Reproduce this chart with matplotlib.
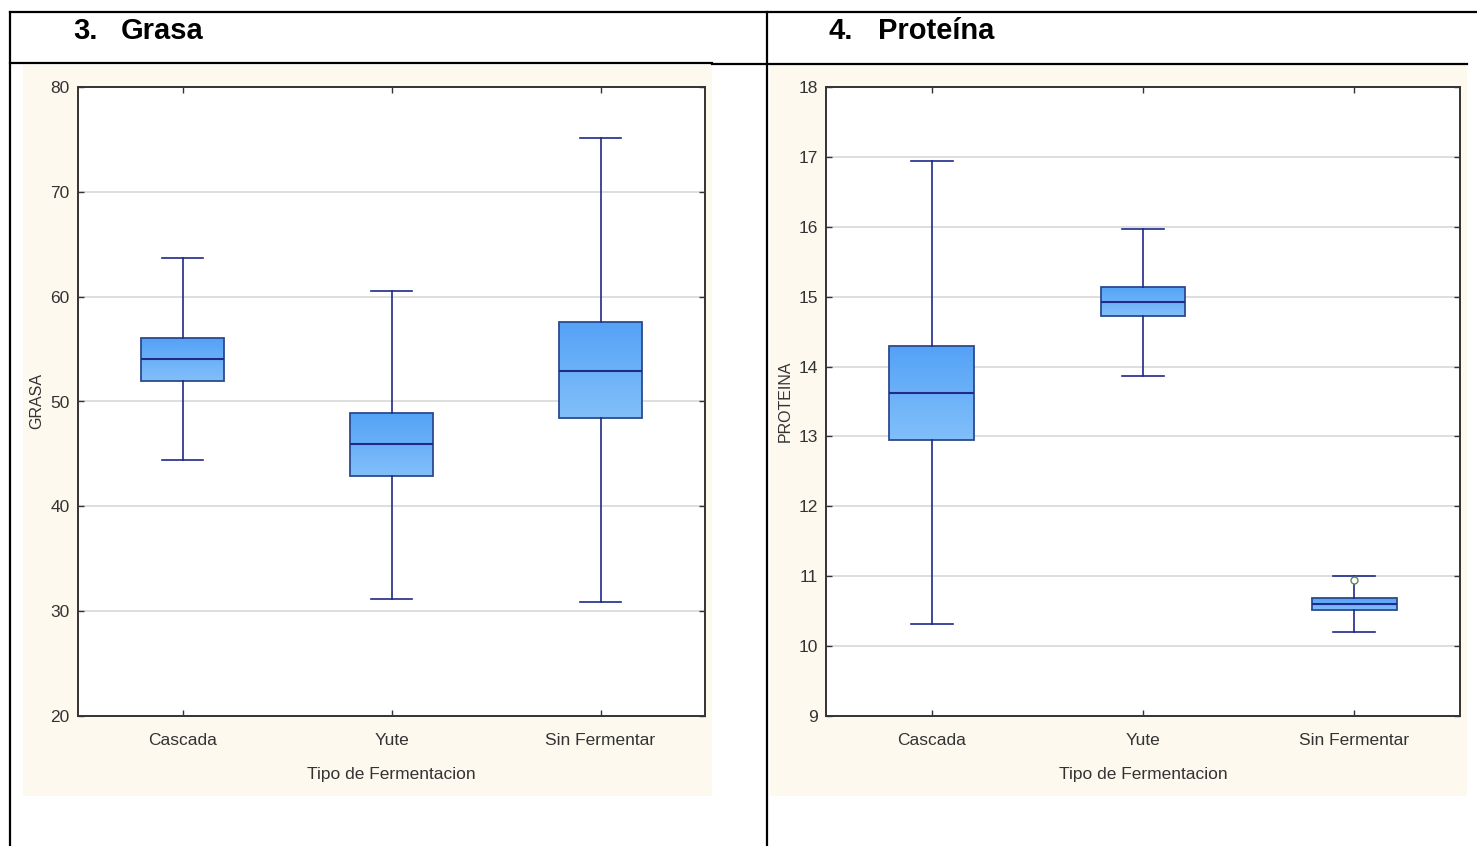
import numpy as np
import matplotlib
matplotlib.use("Agg")
import matplotlib.pyplot as plt
from matplotlib.patches import Rectangle
from matplotlib.colors import LinearSegmentedColormap

# Categorias (eje x comun a los dos graficos)
categorias = ["Cascada", "Yute", "Sin Fermentar"]

# Grasa: bigote inferior, Q1, mediana, Q3, bigote superior
grasa_whislo = [44.4, 31.2, 30.9]
grasa_q1 = [52.0, 42.9, 48.4]
grasa_med = [54.1, 45.9, 52.9]
grasa_q3 = [56.05, 48.9, 57.6]
grasa_whishi = [63.7, 60.5, 75.1]
grasa_fliers = [[], [], []]

# Proteina
prot_whislo = [10.32, 13.87, 10.2]
prot_q1 = [12.95, 14.72, 10.52]
prot_med = [13.62, 14.92, 10.60]
prot_q3 = [14.29, 15.14, 10.69]
prot_whishi = [16.94, 15.97, 11.01]
prot_fliers = [[], [], [10.95]]

fuente = ["Liberation Sans", "DejaVu Sans"]
azul_linea = "#1f2a8a"
cmap_caja = LinearSegmentedColormap.from_list("caja", ["#54a2f6", "#82bffa"])

W, H = 1477, 846
fig = plt.figure(figsize=(W / 100, H / 100), dpi=100)
fig.patch.set_facecolor("white")

# capa de fondo en pixeles para la tabla y los paneles beige
bg = fig.add_axes([0, 0, 1, 1], zorder=0)
bg.set_xlim(0, W)
bg.set_ylim(H, 0)
bg.axis("off")
bg.add_patch(Rectangle((23, 65), 689, 731, facecolor="#fdf9ee", edgecolor="none"))
bg.add_patch(Rectangle((770, 65), 697, 731, facecolor="#fdf9ee", edgecolor="none"))
lw_tabla = 1.6
bg.plot([10, W], [12, 12], color="black", lw=lw_tabla)
bg.plot([10, 10], [12, H], color="black", lw=lw_tabla)
bg.plot([767, 767], [12, H], color="black", lw=lw_tabla)
bg.plot([10, 712], [63, 63], color="black", lw=lw_tabla)
bg.plot([712, 1467], [64, 64], color="black", lw=lw_tabla)

for x, txt in [(73, "3."), (121, "Grasa"), (829, "4."), (878, "Proteína")]:
    fig.text(x / W, 1 - 31 / H, txt, fontsize=21, fontweight="bold",
             family=fuente, va="center")


def dibujar(rect, whislo, q1, med, q3, whishi, fliers, ylim, yticks, ylabel, ylabel_x):
    ax = fig.add_axes(rect, zorder=1)
    stats = []
    for i in range(len(categorias)):
        stats.append(dict(whislo=whislo[i], q1=q1[i], med=med[i], q3=q3[i],
                          whishi=whishi[i], fliers=fliers[i], label=categorias[i]))
    pos = np.arange(1, len(categorias) + 1)
    art = ax.bxp(stats, positions=pos, widths=0.4, patch_artist=True,
                 showfliers=True,
                 boxprops=dict(facecolor="none", edgecolor="#2c4a8c", linewidth=1.3),
                 medianprops=dict(color=azul_linea, linewidth=1.5),
                 whiskerprops=dict(color=azul_linea, linewidth=1.2),
                 capprops=dict(color=azul_linea, linewidth=1.2),
                 capwidths=0.2,
                 flierprops=dict(marker="o", markersize=5, markerfacecolor="white",
                                 markeredgecolor="#5a8a5a", markeredgewidth=1))
    # relleno degradado de cada caja
    grad = np.linspace(0, 1, 100).reshape(-1, 1)
    for p, box in zip(pos, art["boxes"]):
        im = ax.imshow(grad, cmap=cmap_caja, aspect="auto", origin="upper",
                       extent=(p - 0.2, p + 0.2, q1[p - 1], q3[p - 1]), zorder=1.5)
        im.set_clip_path(box)
    for b in art["boxes"]:
        b.set_zorder(2)
    for m in art["medians"]:
        m.set_zorder(3)

    ax.set_xlim(0.5, len(categorias) + 0.5)
    ax.set_ylim(*ylim)
    ax.set_yticks(yticks)
    ax.set_xticks(pos)
    ax.set_xticklabels(categorias)
    ax.grid(axis="y", color="#d8d8d8", linewidth=1.2, zorder=0)
    ax.set_axisbelow(True)
    ax.tick_params(axis="both", direction="in", length=4, width=1, color="#333333",
                   labelcolor="#333333", labelsize=12.5, top=True, right=True)
    ax.tick_params(axis="x", pad=12)
    ax.tick_params(axis="y", pad=6)
    for lab in ax.get_xticklabels() + ax.get_yticklabels():
        lab.set_family(fuente)
    for s in ax.spines.values():
        s.set_color("#333333")
        s.set_linewidth(1.4)
    ax.set_xlabel("Tipo de Fermentacion", family=fuente, fontsize=12.5,
                  color="#333333", labelpad=14)
    fig.text(ylabel_x / W, 1 - 401 / H, ylabel, rotation=90, fontsize=11.5,
             family=fuente, color="#333333", va="center", ha="center")
    return ax


dibujar([78 / W, 1 - 716 / H, 627 / W, 629 / H],
        grasa_whislo, grasa_q1, grasa_med, grasa_q3, grasa_whishi, grasa_fliers,
        (20, 80), range(20, 81, 10), "GRASA", 37)
dibujar([826 / W, 1 - 716 / H, 634 / W, 629 / H],
        prot_whislo, prot_q1, prot_med, prot_q3, prot_whishi, prot_fliers,
        (9, 18), range(9, 19), "PROTEINA", 785)

fig.savefig("out.png", dpi=100)
